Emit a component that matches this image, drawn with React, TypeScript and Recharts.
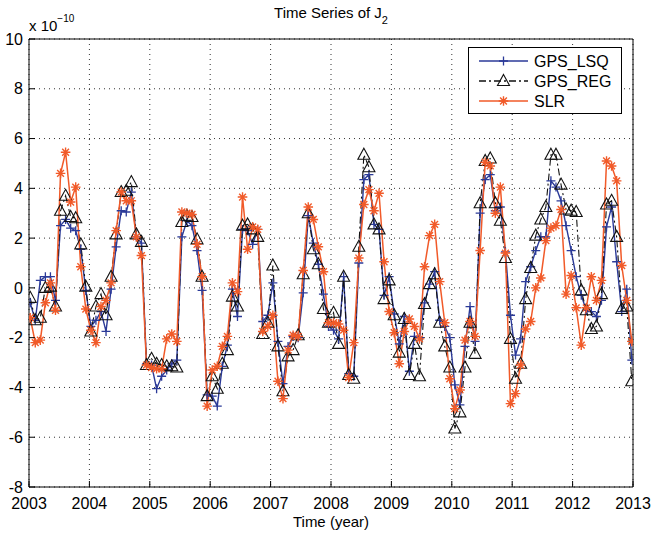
import React from 'react';
import { LineChart, Line, XAxis, YAxis, CartesianGrid, Legend } from 'recharts';

const FONT = '"Liberation Sans", Arial, Helvetica, sans-serif';
const BLUE = '#2b3a98';
const BLACK = '#111';
const ORANGE = '#f15a29';
const DASH = '7 3 2 3';

const xTicks = [2003, 2004, 2005, 2006, 2007, 2008, 2009, 2010, 2011, 2012, 2013];
const yTicks = [-8, -6, -4, -2, 0, 2, 4, 6, 8, 10];
const xMinorTicks = Array.from({ length: 51 }, (_, i) => 2003 + i * 0.2);

// monthly values, 2003 Jan .. 2012 Dec, units of 1e-10
const gpsLsq = [
  -0.6, -1.3, 0.3, 0.45, 0.45, -0.5, 2.5, 2.75, 2.4, 2.3, 1.55, -0.1,
  -1.55, -1.3, -0.95, -1.75, -0.05, 1.65, 3.1, 3.05, 3.85, 2.05, 1.8, -3.05,
  -3.1, -4.05, -3.55, -3.3, -3.05, -2.9, 2.05, 2.7, 2.5, 1.5, -0.1, -4.3,
  -4.35, -4.75, -3.15, -2.3, -0.05, -1.15, 2.35, 2.3, 1.75, 2.35, -1.35, -1.1,
  0.2, -2.15, -3.85, -2.35, -1.95, -2.0, -0.2, 2.9, 1.8, 0.95, -0.25, -1.55,
  -1.7, -2.05, 0.45, -3.45, -3.55, 1.0, 4.35, 4.55, 2.55, 2.35, -0.3, 0.45,
  -1.05, -2.25, -1.15, -3.35, -1.95, -2.0, -0.6, 0.15, 0.65, -1.3, -1.55, -2.0,
  -3.9, -4.7, -2.35, -0.75, -2.15, 3.0, 4.35, 4.55, 3.1, 3.25, 1.45, -1.1,
  -2.7, -2.05, 0.25, 0.85, 1.5, 2.05, 2.05, 4.3, 4.05, 3.5, 2.5, 1.5,
  0.45, -0.3, -0.9, -0.95, -1.15, -0.5, 2.45, 3.25, 1.05, -0.95, -0.05, -2.9,
];

const gpsReg = [
  -0.4, -1.3, -1.2, 0.0, 0.05, -0.75, 3.1, 3.7, 2.85, 2.8, 1.75, 0.05,
  -1.75, -0.75, -0.25, -1.1, 0.45, 2.15, 3.85, 3.9, 4.25, 2.15, 1.85, -3.1,
  -2.85, -3.05, -3.1, -3.15, -3.15, -3.2, 2.65, 2.9, 2.85, 1.95, 0.45, -4.35,
  -3.55, -4.05, -3.05, -2.5, -0.35, -0.75, 2.5, 2.55, 2.35, 2.05, -1.85, -1.4,
  0.9, -2.35, -4.15, -2.75, -2.5, -1.9, 0.55, 3.0, 1.55, 0.95, -0.85, -1.4,
  -1.0, -2.25, 0.45, -3.5, -3.65, 1.65, 5.35, 4.85, 2.55, 2.35, -0.45, 0.3,
  -1.1, -2.6, -1.25, -3.5, -2.25, -3.55, -0.65, 0.15, 0.55, -1.4, -2.35, -3.2,
  -5.65, -5.0, -3.2, -1.4, -2.65, 3.4, 5.1, 5.2, 3.4, 2.7, 1.2, -2.05,
  -3.65, -3.05, -0.45, 0.8, 2.1, 2.75, 3.25, 5.35, 5.35, 4.15, 3.15, 3.1,
  3.05, -0.1, -0.9, -1.65, -1.55, -0.25, 3.35, 3.5, 2.05, -0.85, -0.75, -3.75,
];

const slr = [
  -1.2, -2.2, -2.1, -0.6, 0.2, -0.9, 4.6, 5.45, 3.45, 4.05, 0.85, -0.85,
  -1.7, -2.2, -0.75, -0.5, 0.2, 2.3, 3.85, 3.5, 3.5, 2.05, 1.3, -3.1,
  -3.2, -3.25, -3.25, -2.05, -1.85, -2.15, 3.05, 3.0, 2.95, 1.75, 0.45, -4.75,
  -3.3, -3.15, -2.35, -1.95, 0.2, -0.15, 3.65, 1.55, 2.45, 2.35, -1.75, -1.55,
  -1.1, -3.75, -4.45, -2.5, -1.9, -1.95, 0.7, 3.25, 2.75, 1.65, 0.65, -1.4,
  -1.4, -1.45, -1.7, -3.6, -2.2, 1.2, 3.35, 3.95, 3.1, 3.8, 1.05, -0.95,
  -1.8, -3.05, -1.75, -1.25, -1.55, -2.05, 0.85, 2.1, 2.55, 0.25, -1.4, -3.65,
  -4.85, -4.1, -2.1, -1.35, -1.95, 1.5, 5.05, 4.9, 3.0, 4.05, 1.4, -4.65,
  -4.25, -3.1, -1.65, -1.35, 0.0, 0.4, 1.9, 2.4, 2.5, 3.15, -0.25, 0.5,
  -0.8, -2.3, -0.8, 0.45, -0.5, 0.3, 5.1, 4.9, 4.3, 0.9, -0.5, -2.15,
];

const data = slr.map((_, i) => ({
  t: 2003.02 + i * 0.0837,
  lsq: gpsLsq[i],
  reg: gpsReg[i],
  slr: slr[i],
}));

const PlusDot = ({ cx, cy }: any) => {
  if (cx == null || cy == null) return null;
  return (
    <path d={`M${cx - 4.5},${cy}H${cx + 4.5}M${cx},${cy - 4.5}V${cy + 4.5}`} stroke={BLUE} strokeWidth={1.3} fill="none" />
  );
};

const TriDot = ({ cx, cy }: any) => {
  if (cx == null || cy == null) return null;
  return (
    <path d={`M${cx},${cy - 6.5}L${cx + 6},${cy + 4.5}L${cx - 6},${cy + 4.5}Z`} stroke={BLACK} strokeWidth={1.1} fill="none" />
  );
};

const StarDot = ({ cx, cy }: any) => {
  if (cx == null || cy == null) return null;
  const r = 4.8;
  const d = 3.4;
  return (
    <path
      d={`M${cx - r},${cy}H${cx + r}M${cx},${cy - r}V${cy + r}M${cx - d},${cy - d}L${cx + d},${cy + d}M${cx - d},${cy + d}L${cx + d},${cy - d}`}
      stroke={ORANGE}
      strokeWidth={1.4}
      fill="none"
    />
  );
};

const LegendBox = () => {
  const rows = [
    { name: 'GPS_LSQ', color: BLUE, dash: undefined, Dot: PlusDot, y: 14 },
    { name: 'GPS_REG', color: BLACK, dash: DASH, Dot: TriDot, y: 34 },
    { name: 'SLR', color: ORANGE, dash: undefined, Dot: StarDot, y: 54 },
  ];
  return (
    <svg width={155} height={68} style={{ display: 'block', fontFamily: FONT }}>
      <rect x={0.5} y={0.5} width={153} height={66} fill="#fff" stroke="#000" />
      {rows.map((r) => (
        <g key={r.name}>
          <line x1={11} x2={60} y1={r.y} y2={r.y} stroke={r.color} strokeWidth={1.3} strokeDasharray={r.dash} />
          <r.Dot cx={35.5} cy={r.y} />
          <text x={66} y={r.y + 6} fontSize={16} fill="#000">{r.name}</text>
        </g>
      ))}
    </svg>
  );
};

const tickStyle = { fill: '#000', fontSize: 16, fontFamily: FONT };

export default function App() {
  return (
    <div style={{ position: 'absolute', left: 0, top: 0, width: 654, height: 535, background: '#fff' }}>
      <LineChart
        width={654}
        height={535}
        data={data}
        margin={{ top: 37, right: 20, bottom: 46, left: 28 }}
        style={{ fontFamily: FONT }}
      >
        <CartesianGrid stroke="#333" strokeDasharray="1 4" verticalValues={xTicks} horizontalValues={yTicks} />
        <XAxis
          dataKey="t"
          type="number"
          domain={[2003, 2013]}
          ticks={xTicks}
          allowDataOverflow
          height={1}
          tickSize={-6}
          tickMargin={17}
          tick={tickStyle}
          stroke="#000"
          interval={0}
        />
        <XAxis
          xAxisId="minor"
          dataKey="t"
          type="number"
          domain={[2003, 2013]}
          ticks={xMinorTicks}
          allowDataOverflow
          height={1}
          tickSize={-3}
          tick={false}
          axisLine={false}
          stroke="#000"
          interval={0}
        />
        <XAxis
          xAxisId="top"
          orientation="top"
          dataKey="t"
          type="number"
          domain={[2003, 2013]}
          ticks={xTicks}
          allowDataOverflow
          height={1}
          tickSize={-6}
          tick={false}
          stroke="#000"
          interval={0}
        />
        <XAxis
          xAxisId="topMinor"
          orientation="top"
          dataKey="t"
          type="number"
          domain={[2003, 2013]}
          ticks={xMinorTicks}
          allowDataOverflow
          height={1}
          tickSize={-3}
          tick={false}
          axisLine={false}
          stroke="#000"
          interval={0}
        />
        <YAxis
          type="number"
          domain={[-8, 10]}
          ticks={yTicks}
          allowDataOverflow
          width={1}
          tickSize={-6}
          tickMargin={12}
          tick={tickStyle}
          stroke="#000"
          interval={0}
        />
        <YAxis
          yAxisId="right"
          orientation="right"
          type="number"
          domain={[-8, 10]}
          ticks={yTicks}
          allowDataOverflow
          width={1}
          tickSize={-6}
          tick={false}
          stroke="#000"
          interval={0}
        />
        <Legend
          layout="vertical"
          align="center"
          verticalAlign="middle"
          content={<LegendBox />}
          wrapperStyle={{ left: 468, top: 47, width: 155, height: 68 }}
        />
        <Line
          dataKey="lsq"
          stroke={BLUE}
          strokeWidth={1.4}
          dot={<PlusDot />}
          activeDot={false}
          isAnimationActive={false}
        />
        <Line
          dataKey="reg"
          stroke={BLACK}
          strokeWidth={1.1}
          strokeDasharray={DASH}
          dot={<TriDot />}
          activeDot={false}
          isAnimationActive={false}
        />
        <Line
          dataKey="slr"
          stroke={ORANGE}
          strokeWidth={1.5}
          dot={<StarDot />}
          activeDot={false}
          isAnimationActive={false}
        />
        <text x={331} y={18} textAnchor="middle" fontSize={15} fill="#000" fontFamily={FONT}>
          Time Series of J
          <tspan dy={6} fontSize={11}>2</tspan>
        </text>
        <text x={29} y={31} fontSize={15} fill="#000" fontFamily={FONT}>
          x 10
          <tspan dy={-9} fontSize={10}>−10</tspan>
        </text>
        <text x={331} y={527} textAnchor="middle" fontSize={15} fill="#000" fontFamily={FONT}>
          Time (year)
        </text>
      </LineChart>
    </div>
  );
}
